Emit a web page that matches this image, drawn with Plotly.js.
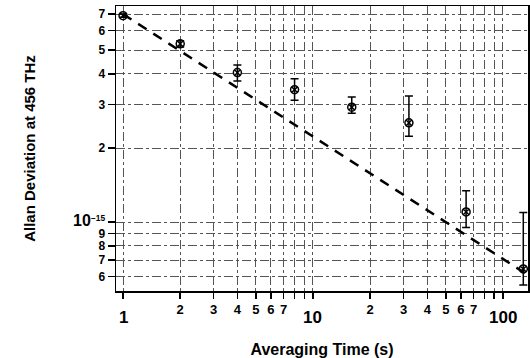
<!DOCTYPE html>
<html>
<head>
<meta charset="utf-8">
<script src="https://cdn.plot.ly/plotly-3.0.1.min.js"></script>
<style>html,body{margin:0;padding:0;background:#fff;}#chart{width:530px;height:358px;}</style>
</head>
<body>
<div id="chart"></div>
<script>
// Averaging time (s)
const tau = [1, 2, 4, 8, 16, 32, 64, 128];
// Allan deviation (x 1e-15)
const adev = [6.9, 5.3, 4.05, 3.45, 2.93, 2.53, 1.10, 0.645];
const errPlus = [0.1, 0.15, 0.3, 0.37, 0.29, 0.72, 0.24, 0.45];
const errMinus = [0.1, 0.15, 0.31, 0.32, 0.16, 0.3, 0.15, 0.09];
// dashed reference line end points
const fitTau = [1, 135];
const fitDev = [7.0, 0.61];

const xTickVals = [1, 2, 3, 4, 5, 6, 7, 8, 9, 10, 20, 30, 40, 50, 60, 70, 80, 90, 100];
const xTickText = ['', '2', '3', '4', '5', '6', '7', '', '', '', '2', '3', '4', '5', '6', '7', '', '', ''];
const xMajorVals = [1, 10, 100];
const xMajorText = ['1', '10', '100'];
const yTickVals = [6, 7, 8, 9, 10, 20, 30, 40, 50, 60, 70];
const yTickText = ['6', '7', '8', '9', '10<sup>-15</sup>', '2', '3', '4', '5', '6', '7'];

const scale = 1e-15;
const yVals = yTickVals.map(v => v * 1e-16);
const yText = yTickText.map((t, i) => yTickVals[i] === 10
  ? '<span style="font-size:16px">10</span><sup>−15</sup>' : t);

const traces = [
  {
    x: fitTau, y: fitDev.map(v => v * scale), mode: 'lines', type: 'scatter',
    line: {color: '#000', width: 2.5, dash: '10px,8px'}, hoverinfo: 'skip', showlegend: false
  },
  {
    x: tau, y: adev.map(v => v * scale), mode: 'markers', type: 'scatter',
    marker: {symbol: 'circle-x-open', size: 8, color: '#000', line: {width: 1.5, color: '#000'}},
    error_y: {type: 'data', symmetric: false, array: errPlus.map(v => v * scale),
      arrayminus: errMinus.map(v => v * scale), color: '#000', thickness: 1.5, width: 4},
    showlegend: false
  }
];

const majorLabels = xMajorVals.map((v, i) => ({
  x: Math.log10(v), xref: 'x', y: 0, yref: 'paper', yanchor: 'middle', xanchor: 'center',
  yshift: -26, text: xMajorText[i], showarrow: false,
  font: {size: 17, weight: 'bold', color: '#000'}
}));

const gridStyle = {gridcolor: '#555', gridwidth: 1, griddash: 'dashdot'};
const layout = {
  width: 530, height: 358,
  margin: {l: 116, r: 2, t: 6, b: 67},
  paper_bgcolor: '#fff', plot_bgcolor: '#fff',
  font: {family: 'Liberation Sans, Arial, sans-serif', color: '#000', size: 12, weight: 'bold'},
  annotations: majorLabels,
  xaxis: Object.assign({
    type: 'log', range: [-0.037, 2.132], automargin: false,
    tickmode: 'array', tickvals: xTickVals, ticktext: xTickText,
    ticks: 'outside', ticklen: 6, tickwidth: 1.5, tickcolor: '#000',
    showline: true, linecolor: '#000', linewidth: 1.5, mirror: true,
    tickfont: {size: 13, weight: 'bold'}, zeroline: false,
    title: {text: '<br>Averaging Time (s)', font: {size: 16, weight: 'bold'}}
  }, gridStyle),
  yaxis: Object.assign({
    type: 'log', range: [-15.280, -14.122], automargin: false,
    tickmode: 'array', tickvals: yVals, ticktext: yText,
    ticks: 'outside', ticklen: 7, tickwidth: 1.5, tickcolor: '#000',
    showline: true, linecolor: '#000', linewidth: 1.5, mirror: true,
    tickfont: {size: 12, weight: 'bold'}, zeroline: false,
    title: {text: 'Allan Deviation at 456 THz', font: {size: 15, weight: 'bold'}, standoff: 34}
  }, gridStyle)
};

Plotly.newPlot('chart', traces, layout, {staticPlot: true, displayModeBar: false});
</script>
</body>
</html>
